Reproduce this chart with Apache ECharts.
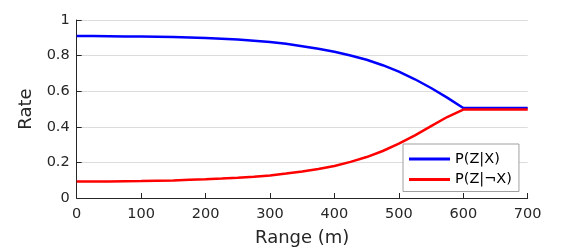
<!DOCTYPE html>
<html>
<head>
<meta charset="utf-8">
<script src="https://cdn.jsdelivr.net/npm/echarts@6/dist/echarts.min.js"></script>
<style>html,body{margin:0;padding:0;background:#fff}#c{width:586px;height:252px}</style>
</head>
<body>
<div id="c"></div>
<script>
var ranges = [0,25,50,75,100,125,150,175,200,225,250,275,300,325,350,375,400,425,450,475,500,525,550,575,600,650,700];
var pZgivenX = [0.910,0.910,0.909,0.908,0.907,0.906,0.904,0.902,0.899,0.895,0.890,0.884,0.876,0.866,0.853,0.839,0.822,0.801,0.777,0.746,0.710,0.667,0.618,0.564,0.506,0.506,0.506];
var pZgivenNotX = [0.092,0.092,0.093,0.094,0.095,0.097,0.099,0.102,0.105,0.109,0.114,0.120,0.127,0.137,0.149,0.163,0.180,0.203,0.230,0.264,0.305,0.352,0.404,0.455,0.497,0.497,0.497];
var seriesNames = ['P(Z|X)', 'P(Z|\u00acX)'];
var xTicks = [0,100,200,300,400,500,600,700];
var yTicks = [0,0.2,0.4,0.6,0.8,1];

function pairs(xs, ys){ return xs.map(function(x,i){ return [x, ys[i]]; }); }

var FONT = 'DejaVu Sans';
var TXT = '#262626';
var chart = echarts.init(document.getElementById('c'), null, {renderer:'canvas'});
chart.setOption({
  animation: false,
  backgroundColor: '#fff',
  grid: {left: 76.7, right: 58.3, top: 20, bottom: 52.5, containLabel: false},
  xAxis: {
    type: 'value', min: 0, max: 700, interval: 100,
    name: 'Range (m)', nameLocation: 'middle', nameGap: 31,
    nameTextStyle: {fontFamily: FONT, fontSize: 18, color: TXT},
    axisLine: {show: true, onZero: false, lineStyle: {color: TXT, width: 1}},
    axisTick: {show: true, inside: true, length: 5, lineStyle: {color: TXT}},
    axisLabel: {fontFamily: FONT, fontSize: 14.5, color: TXT, margin: 9,
      formatter: function(v){ return xTicks.indexOf(v) >= 0 ? String(v) : ''; }},
    splitLine: {show: false}
  },
  yAxis: {
    type: 'value', min: 0, max: 1, interval: 0.2,
    name: 'Rate', nameLocation: 'middle', nameGap: 36, nameRotate: 90,
    nameTextStyle: {fontFamily: FONT, fontSize: 18, color: TXT},
    axisLine: {show: true, lineStyle: {color: TXT, width: 1}},
    axisTick: {show: true, inside: true, length: 5, lineStyle: {color: TXT}},
    axisLabel: {fontFamily: FONT, fontSize: 14.5, color: TXT, margin: 7,
      formatter: function(v){ var t = yTicks.find(function(k){return Math.abs(k-v)<1e-9;}); return t === undefined ? '' : String(t); }},
    splitLine: {show: true, lineStyle: {color: '#dcdcdc', width: 1}}
  },
  legend: {
    orient: 'vertical', left: 403, top: 144,
    data: [{name: seriesNames[0], icon: 'rect'}, {name: seriesNames[1], icon: 'rect'}],
    itemWidth: 41, itemHeight: 3, itemGap: 4.5, itemTextGap: 5,
    padding: [7, 7, 4, 6],
    backgroundColor: '#fff', borderColor: '#a0a0a0', borderWidth: 1, borderRadius: 0,
    textStyle: {fontFamily: FONT, fontSize: 14.5, color: '#000', lineHeight: 16}
  },
  series: [
    {name: seriesNames[0], type: 'line', data: pairs(ranges, pZgivenX), showSymbol: false, symbol: 'none',
     lineStyle: {color: '#0000ff', width: 2.5}, itemStyle: {color: '#0000ff'}},
    {name: seriesNames[1], type: 'line', data: pairs(ranges, pZgivenNotX), showSymbol: false, symbol: 'none',
     lineStyle: {color: '#ff0000', width: 2.5}, itemStyle: {color: '#ff0000'}}
  ]
});
</script>
</body>
</html>
